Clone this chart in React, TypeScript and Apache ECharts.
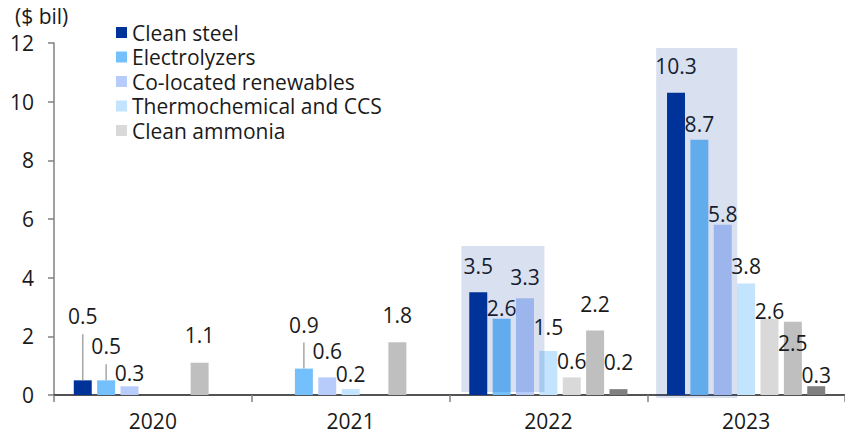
import React, { useEffect, useRef } from 'react';
import * as echarts from 'echarts';

const categories = ['2020', '2021', '2022', '2023'];
const cleanSteel = [0.5, null, 3.5, 10.3];
const electrolyzers = [0.5, 0.9, 2.6, 8.7];
const coLocated = [0.3, 0.6, 3.3, 5.8];
const thermochemical = [null, 0.2, 1.5, 3.8];
const cleanAmmonia = [null, null, 0.6, 2.6];
const otherA = [1.1, 1.8, 2.2, 2.5];
const otherB = [null, null, 0.2, 0.3];
const yTicks = [0, 2, 4, 6, 8, 10, 12];

const seriesNames = [
  'Clean steel',
  'Electrolyzers',
  'Co-located renewables',
  'Thermochemical and CCS',
  'Clean ammonia',
  'Other',
  'Other (2)',
];
const legendNames = seriesNames.slice(0, 5);
const seriesData = [cleanSteel, electrolyzers, coLocated, thermochemical, cleanAmmonia, otherA, otherB];
const colors = ['#003399', '#74c0fc', '#b8ccfc', '#c2e4fe', '#d9d9d9', '#bfbfbf', '#808080'];

// label center offset (px) relative to bar top
const labelDy = [
  [-64, 0, -26, -26.7],
  [-34, -44, -10.3, -15.7],
  [-13.7, -26, -21.3, -10.7],
  [0, -15, -23.7, -18],
  [0, 0, -16, -7.7],
  [-27.3, -27.7, -26.7, 21.7],
  [0, 0, -27, -11],
];
const leaders = [
  [0, 0],
  [1, 0],
  [1, 1],
];
const highlightCats = ['2022', '2023'];
const highlightBand = [
  [-0.44, -0.02],
  [-0.455, -0.045],
];
const highlightVal = [
  [0.1, 5.08],
  [-0.1, 11.83],
];

const FONT = 'Open Sans';
const FS = 21;
const TEXT = '#1a1a1a';

export default function App() {
  const ref = useRef<HTMLDivElement>(null);
  useEffect(() => {
    if (!ref.current) return;
    const chart = echarts.init(ref.current, null, { renderer: 'svg' });
    const option: any = {
      animation: false,
      textStyle: { fontFamily: FONT, color: TEXT },
      grid: { left: 54, top: 43, bottom: 41, width: 793 },
      legend: {
        data: legendNames,
        orient: 'vertical',
        left: 111,
        top: 17,
        icon: 'rect',
        itemWidth: 11,
        itemHeight: 11,
        itemGap: 3.5,
        textStyle: { fontFamily: FONT, fontSize: FS, lineHeight: 20, color: TEXT },
      },
      xAxis: {
        type: 'category',
        data: categories,
        axisLine: { lineStyle: { color: '#1a1a1a', width: 1.5 } },
        axisTick: { show: true, length: 7, lineStyle: { color: '#808080', width: 1.5 } },
        axisLabel: { fontFamily: FONT, fontSize: FS, color: TEXT, margin: 15 },
      },
      yAxis: {
        type: 'value',
        min: 0,
        max: yTicks[yTicks.length - 1],
        interval: yTicks[1] - yTicks[0],
        axisLine: { show: true, lineStyle: { color: '#808080', width: 1.5 } },
        axisTick: { show: true, length: 6, lineStyle: { color: '#808080', width: 1.5 } },
        splitLine: { show: false },
        axisLabel: { fontFamily: FONT, fontSize: FS, color: TEXT, margin: 20 },
      },
      series: seriesData.map((d, si) => ({
        type: 'bar',
        name: seriesNames[si],
        barGap: '30%',
        barCategoryGap: '20%',
        itemStyle: { color: colors[si] },
        data: d.map((v, i) =>
          v == null
            ? null
            : {
                value: v,
                label: {
                  show: true,
                  position: 'top',
                  distance: 0,
                  offset: [0, labelDy[si][i] + 10.5],
                  fontFamily: FONT,
                  fontSize: FS,
                  color: TEXT,
                },
              }
        ),
      })),
    };
    chart.setOption(option);

    const px = (c: string, v: number) => chart.convertToPixel({ gridIndex: 0 }, [c, v]) as number[];
    const band = px(categories[1], 0)[0] - px(categories[0], 0)[0];
    const graphics: any[] = [
      {
        type: 'text',
        x: 15,
        y: 16,
        style: { text: '($ bil)', fontFamily: FONT, fontSize: FS, fill: TEXT, verticalAlign: 'middle' },
      },
    ];
    highlightCats.forEach((c, k) => {
      const top = px(c, highlightVal[k][1]);
      const bot = px(c, highlightVal[k][0]);
      const x1 = top[0] + highlightBand[k][0] * band;
      const x2 = top[0] + highlightBand[k][1] * band;
      graphics.push({
        type: 'rect',
        z: 100,
        shape: { x: x1, y: top[1], width: x2 - x1, height: bot[1] - top[1] },
        style: { fill: 'rgba(0,51,153,0.15)' },
      });
    });
    const model: any = (chart as any).getModel();
    leaders.forEach(([si, i]) => {
      const layout = model.getSeriesByIndex(si).getData().getItemLayout(i);
      if (!layout) return;
      const cx = layout.x + layout.width / 2;
      const topY = Math.min(layout.y, layout.y + layout.height);
      graphics.push({
        type: 'line',
        z: 50,
        shape: { x1: cx, y1: topY, x2: cx, y2: topY + labelDy[si][i] + 18 },
        style: { stroke: '#a6a6a6', lineWidth: 1.5 },
      });
    });
    chart.setOption({ graphic: graphics });
    return () => chart.dispose();
  }, []);
  return <div ref={ref} style={{ width: 845, height: 436, position: 'absolute', left: 0, top: 0 }} />;
}
